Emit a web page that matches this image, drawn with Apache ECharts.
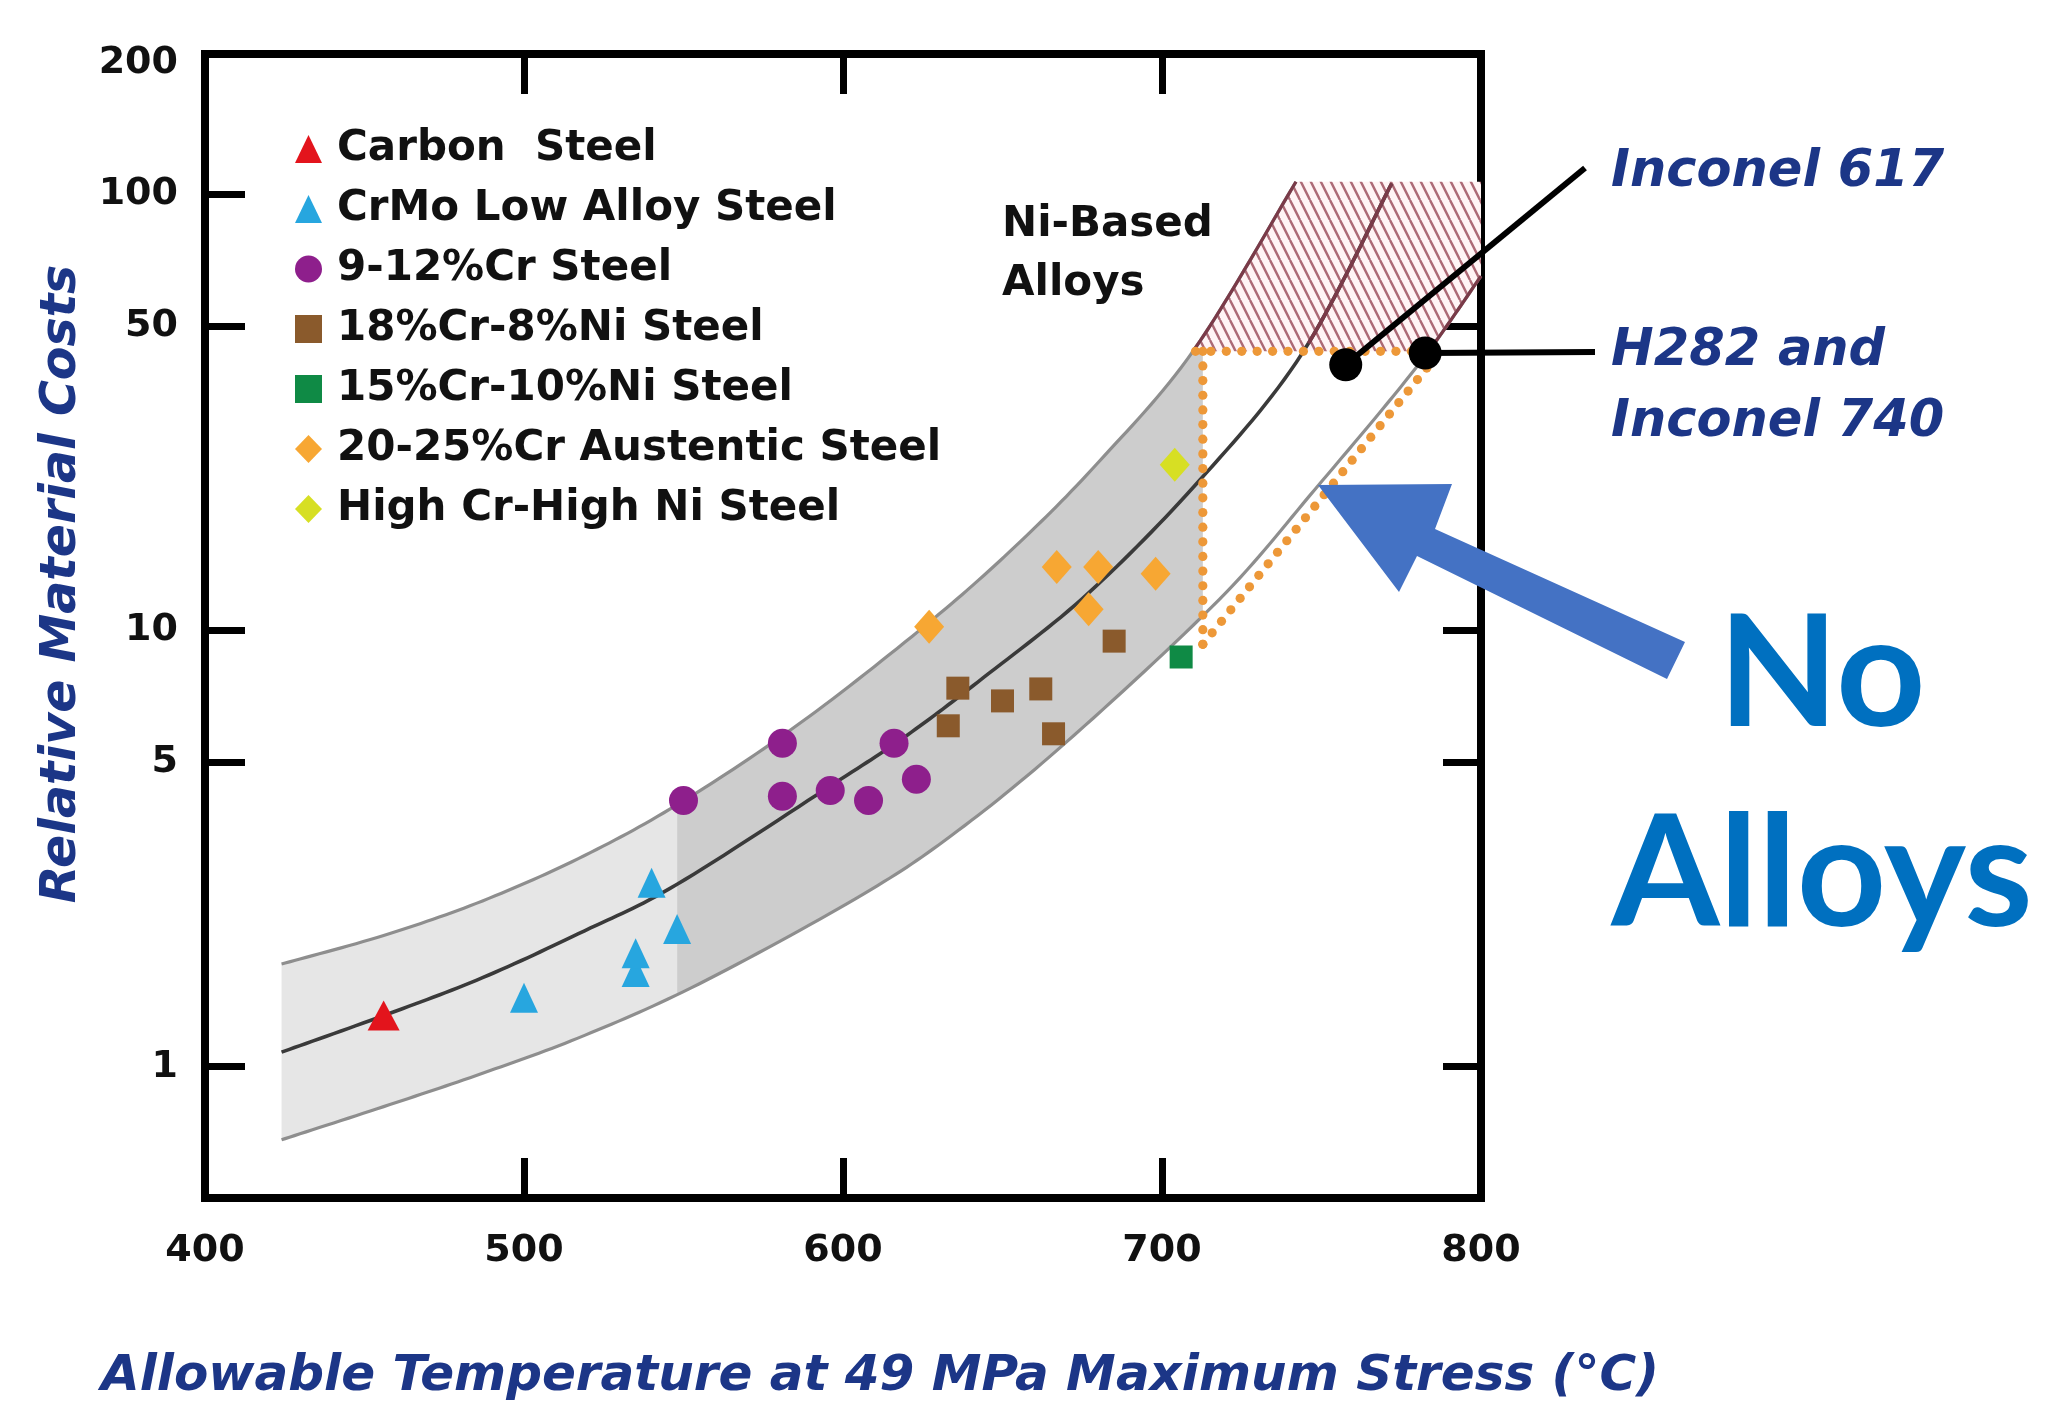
<!DOCTYPE html>
<html>
<head>
<meta charset="utf-8">
<script src="https://cdn.jsdelivr.net/npm/echarts@6/dist/echarts.min.js"></script>
<style>html,body{margin:0;padding:0;background:#fff}#c{width:2045px;height:1404px}</style>
</head>
<body>
<div id="c"></div>
<script>
// ---------- axis ----------
const xRange = [400, 800];
const xInterval = 100;
const yRange = [0.5, 210];
const yTickLabels = [1, 5, 10, 50, 100, 200];
const yTickMarks = [1, 5, 10, 50, 100];

// ---------- series names ----------
const seriesNames = ['Carbon  Steel', 'CrMo Low Alloy Steel', '9-12%Cr Steel', '18%Cr-8%Ni Steel',
  '15%Cr-10%Ni Steel', '20-25%Cr Austentic Steel', 'High Cr-High Ni Steel'];

// ---------- data points [temperature, relative cost] ----------
const carbonSteel = [[456, 1.31]];
const crMoSteel = [[500, 1.44], [535, 1.65], [535, 1.82], [540, 2.64], [548, 2.07]];
const cr912Steel = [[550, 4.08], [581, 5.52], [581, 4.17], [596, 4.30], [608, 4.08], [616, 5.52], [623, 4.56]];
const cr18ni8Steel = [[633, 6.05], [636, 7.38], [650, 6.90], [662, 7.35], [666, 5.80], [685, 9.46]];
const cr15ni10Steel = [[706, 8.7]];
const cr2025Steel = [[627, 10.2], [667, 14.0], [680, 14.0], [698, 13.5], [677, 11.2]];
const highCrNiSteel = [[704, 24.0]];
const nickelAlloys = [[757.6, 40.7], [782.5, 43.3]];

// ---------- band curves ----------
const bandUpper = [[424, 1.72], [456, 2.00], [487, 2.40], [519, 3.05], [550, 4.07], [587, 6.17],
  [626, 10.3], [654, 15.6], [680, 24.3], [710, 44.0], [742, 107]];
const bandCenter = [[424, 1.08], [456, 1.31], [487, 1.60], [519, 2.05], [548, 2.62], [597, 4.45],
  [620, 5.75], [644, 7.80], [677, 12.2], [712, 22.2], [744, 43.3], [772, 106]];
const bandLower = [[424, 0.68], [456, 0.81], [487, 0.966], [519, 1.18], [555, 1.55], [604, 2.43],
  [634, 3.39], [670, 5.55], [718, 11.8], [748, 21.1], [780, 40.4], [800, 65]];
const shadeBreaks = [424, 548, 712.8];
const hatchRange = [43.7, 107];

// ---------- dotted outline ----------
const dottedTop = [[710.5, 43.7], [783, 43.7]];
const dottedVertical = [[712.8, 43.7], [712.8, 9.3]];
const dottedDiagonal = [[712.8, 9.3], [783, 40]];

// ---------- helpers ----------
function catmull(pts, n) {
  const out = [];
  for (let i = 0; i < pts.length - 1; i++) {
    const p0 = pts[i - 1] || pts[i], p1 = pts[i], p2 = pts[i + 1], p3 = pts[i + 2] || pts[i + 1];
    for (let k = 0; k < n; k++) {
      const t = k / n, t2 = t * t, t3 = t2 * t;
      const f = (a, b, c, d) => 0.5 * ((2 * b) + (-a + c) * t + (2 * a - 5 * b + 4 * c - d) * t2 + (-a + 3 * b - 3 * c + d) * t3);
      out.push([f(p0[0], p1[0], p2[0], p3[0]), f(p0[1], p1[1], p2[1], p3[1])]);
    }
  }
  out.push(pts[pts.length - 1].slice());
  return out;
}
function clipPoly(poly, x0, x1, y0, y1) {
  const edges = [
    [p => p[0] >= x0, (a, b) => { const t = (x0 - a[0]) / (b[0] - a[0]); return [x0, a[1] + t * (b[1] - a[1])]; }],
    [p => p[0] <= x1, (a, b) => { const t = (x1 - a[0]) / (b[0] - a[0]); return [x1, a[1] + t * (b[1] - a[1])]; }],
    [p => p[1] >= y0, (a, b) => { const t = (y0 - a[1]) / (b[1] - a[1]); return [a[0] + t * (b[0] - a[0]), y0]; }],
    [p => p[1] <= y1, (a, b) => { const t = (y1 - a[1]) / (b[1] - a[1]); return [a[0] + t * (b[0] - a[0]), y1]; }]
  ];
  let out = poly;
  for (const [inside, inter] of edges) {
    const inp = out; out = [];
    for (let i = 0; i < inp.length; i++) {
      const cur = inp[i], prev = inp[(i + inp.length - 1) % inp.length];
      const ci = inside(cur), pi = inside(prev);
      if (ci) { if (!pi) out.push(inter(prev, cur)); out.push(cur); }
      else if (pi) out.push(inter(prev, cur));
    }
    if (!out.length) break;
  }
  return out;
}

// hatch pattern
const pc = document.createElement('canvas');
pc.width = 10; pc.height = 20;
const g = pc.getContext('2d');
g.fillStyle = '#fff4f5'; g.fillRect(0, 0, 10, 20);
g.strokeStyle = '#ad6a76'; g.lineWidth = 2.4;
for (const off of [-10, 0, 10]) { g.beginPath(); g.moveTo(off, 0); g.lineTo(off + 10, 20); g.stroke(); }
const hatchPattern = { image: pc, repeat: 'repeat' };

function renderBand(params, api) {
  const toPx = d => api.coord(d);
  const up = catmull(bandUpper.map(toPx), 16);
  const lo = catmull(bandLower.map(toPx), 16);
  const corner = api.coord([xRange[1], hatchRange[1]]);
  const poly = up.concat([corner], lo.slice().reverse());
  const xa = api.coord([shadeBreaks[0], 1])[0];
  const xb = api.coord([shadeBreaks[1], 1])[0];
  const xc = api.coord([shadeBreaks[2], 1])[0];
  const yTop = api.coord([700, hatchRange[1]])[1];
  const yBot = api.coord([700, hatchRange[0]])[1];
  const B = 1e5;
  return {
    type: 'group', children: [
      { type: 'polygon', shape: { points: clipPoly(poly, xa, xb, -B, B) }, style: { fill: '#e6e6e6' } },
      { type: 'polygon', shape: { points: clipPoly(poly, xb, xc, -B, B) }, style: { fill: '#cdcdcd' } },
      { type: 'polygon', shape: { points: clipPoly(poly, -B, corner[0], yTop, yBot) }, style: { fill: hatchPattern } }
    ]
  };
}
function renderLines(params, api) {
  const toPx = d => api.coord(d);
  const yBot = api.coord([700, hatchRange[0]])[1];
  const curves = [
    [catmull(bandUpper.map(toPx), 16), '#8e8e8e', 3.2],
    [catmull(bandLower.map(toPx), 16), '#8e8e8e', 3.2],
    [catmull(bandCenter.map(toPx), 16), '#3a3a3a', 3.6]
  ];
  const children = [];
  curves.forEach(([pts, col, w]) => {
    children.push({ type: 'polyline', shape: { points: pts }, style: { stroke: col, lineWidth: w, fill: null } });
    const sub = pts.filter(p => p[1] <= yBot);
    if (sub.length > 1) children.push({ type: 'polyline', shape: { points: sub }, style: { stroke: '#7a3a48', lineWidth: w, fill: null } });
  });
  return { type: 'group', children };
}
function renderDots(params, api) {
  const children = [];
  [dottedTop, dottedVertical, dottedDiagonal].forEach(seg => {
    const a = api.coord(seg[0]), b = api.coord(seg[1]);
    const len = Math.hypot(b[0] - a[0], b[1] - a[1]);
    const n = Math.max(1, Math.round(len / 15));
    for (let i = 0; i <= n; i++) {
      const t = i / n;
      children.push({ type: 'circle', shape: { cx: a[0] + t * (b[0] - a[0]), cy: a[1] + t * (b[1] - a[1]), r: 4.6 }, style: { fill: '#ed9838' } });
    }
  });
  return { type: 'group', children };
}

const labelFont = { fontFamily: 'DejaVu Sans', fontWeight: 'bold', color: '#111' };
const navy = '#1c3687';
const tickStyle = { width: 7, color: '#000' };

function scatter(name, data, symbol, size, color) {
  return { name, type: 'scatter', data, symbol, symbolSize: size, itemStyle: { color, opacity: 1 }, z: 5 };
}

const chart = echarts.init(document.getElementById('c'));
const option = {
  animation: false,
  backgroundColor: '#fff',
  grid: { left: 205, right: 564, top: 54, bottom: 206, show: true, borderColor: '#000', borderWidth: 8,
    backgroundColor: 'transparent', outerBoundsMode: 'none', containLabel: false },
  legend: {
    data: seriesNames, orient: 'vertical', left: 290, top: 114, itemWidth: 27, itemHeight: 28, itemGap: 0,
    selectedMode: false,
    textStyle: Object.assign({ fontSize: 42, lineHeight: 60, padding: [0, 0, 0, 10] }, labelFont)
  },
  xAxis: [
    { type: 'value', min: xRange[0], max: xRange[1], interval: xInterval, position: 'bottom',
      axisLine: { show: false, onZero: false }, splitLine: { show: false },
      axisTick: { inside: true, length: 40, lineStyle: tickStyle },
      axisLabel: Object.assign({ fontSize: 38, margin: 34, showMinLabel: true, showMaxLabel: true }, labelFont),
      name: 'Allowable Temperature at 49 MPa Maximum Stress (°C)', nameLocation: 'middle', nameGap: 154,
      nameTextStyle: { fontFamily: 'DejaVu Sans', fontWeight: 'bold', fontStyle: 'italic', fontSize: 50, color: navy, padding: [0, 0, 0, 74] } },
    { type: 'value', min: xRange[0], max: xRange[1], interval: xInterval, position: 'top',
      axisLine: { show: false, onZero: false }, splitLine: { show: false }, axisLabel: { show: false },
      axisTick: { inside: true, length: 40, lineStyle: tickStyle } }
  ],
  yAxis: [
    { type: 'log', logBase: 10, min: yRange[0], max: yRange[1], axisLine: { show: false, onZero: false }, axisTick: { show: false },
      axisLabel: { show: false }, splitLine: { show: false }, minorTick: { show: false } },
    { type: 'value', position: 'left', min: Math.log10(yRange[0]), max: Math.log10(yRange[1]),
      axisLine: { show: false, onZero: false }, splitLine: { show: false },
      axisTick: { inside: true, length: 40, lineStyle: tickStyle, customValues: yTickMarks.map(Math.log10) },
      axisLabel: Object.assign({ fontSize: 38, margin: 27, customValues: yTickLabels.map(Math.log10),
        formatter: v => String(Math.round(Math.pow(10, v))) }, labelFont),
      name: 'Relative Material Costs', nameLocation: 'middle', nameGap: 118, nameRotate: 90,
      nameTextStyle: { fontFamily: 'DejaVu Sans', fontWeight: 'bold', fontStyle: 'italic', fontSize: 49, color: navy, padding: [0, 0, 0, 84] } },
    { type: 'value', position: 'right', min: Math.log10(yRange[0]), max: Math.log10(yRange[1]),
      axisLine: { show: false, onZero: false }, splitLine: { show: false }, axisLabel: { show: false },
      axisTick: { inside: true, length: 38, lineStyle: tickStyle, customValues: yTickMarks.map(Math.log10) } }
  ],
  series: [
    { name: 'band', type: 'custom', data: [[600, 10]], encode: { x: 0, y: 1 }, renderItem: renderBand, z: 1, silent: true, clip: false },
    { name: 'curves', type: 'custom', data: [[600, 10]], encode: { x: 0, y: 1 }, renderItem: renderLines, z: 2, silent: true, clip: false },
    { name: 'outline', type: 'custom', data: [[600, 10]], encode: { x: 0, y: 1 }, renderItem: renderDots, z: 3, silent: true, clip: false },
    scatter(seriesNames[0], carbonSteel, 'triangle', [32, 30], '#e3141c'),
    scatter(seriesNames[1], crMoSteel, 'triangle', [28, 30], '#27a6df'),
    scatter(seriesNames[2], cr912Steel, 'circle', 29, '#8e1f8c'),
    scatter(seriesNames[3], cr18ni8Steel, 'rect', 23, '#8a5a2c'),
    scatter(seriesNames[4], cr15ni10Steel, 'rect', 23, '#0f8a45'),
    scatter(seriesNames[5], cr2025Steel, 'diamond', [30, 34], '#f7a733'),
    scatter(seriesNames[6], highCrNiSteel, 'diamond', [30, 34], '#d7df23'),
    { name: 'Ni alloys', type: 'scatter', data: nickelAlloys, symbol: 'circle', symbolSize: 33, itemStyle: { color: '#000', opacity: 1 }, z: 6 }
  ]
};
chart.setOption(option);

// annotations
const p617 = chart.convertToPixel({ xAxisIndex: 0, yAxisIndex: 0 }, nickelAlloys[0]);
const p282 = chart.convertToPixel({ xAxisIndex: 0, yAxisIndex: 0 }, nickelAlloys[1]);
const arrow = [[1318, 485], [1452, 484], [1435, 529], [1685, 642], [1667, 679], [1417, 556], [1399, 592]];
chart.setOption({
  graphic: [
    { type: 'line', z: 100, shape: { x1: p617[0], y1: p617[1], x2: 1585, y2: 168 }, style: { stroke: '#000', lineWidth: 6 } },
    { type: 'line', z: 100, shape: { x1: p282[0], y1: p282[1], x2: 1595, y2: 352 }, style: { stroke: '#000', lineWidth: 6 } },
    { type: 'text', z: 100, x: 1002, y: 196, style: { text: 'Ni-Based\nAlloys', font: 'bold 42px "DejaVu Sans"', lineHeight: 59, fill: '#111', verticalAlign: 'top', align: 'left' } },
    { type: 'text', z: 100, x: 1611, y: 173, style: { text: 'Inconel 617', font: 'italic bold 51px "DejaVu Sans"', fill: navy, verticalAlign: 'middle', align: 'left' } },
    { type: 'text', z: 100, x: 1611, y: 387.5, style: { text: 'H282 and\nInconel 740', font: 'italic bold 51px "DejaVu Sans"', lineHeight: 71, fill: navy, verticalAlign: 'middle', align: 'left' } },
    { type: 'polygon', z: 100, shape: { points: arrow }, style: { fill: '#4472c4' } },
    { type: 'text', z: 100, x: 1822, y: 676, style: { text: 'No', font: 'bold 156px Lato', fill: '#0070c0', verticalAlign: 'middle', align: 'center' } },
    { type: 'text', z: 100, x: 1822, y: 876, style: { text: 'Alloys', font: 'bold 156px Lato', fill: '#0070c0', verticalAlign: 'middle', align: 'center' } }
  ]
});
</script>
</body>
</html>
